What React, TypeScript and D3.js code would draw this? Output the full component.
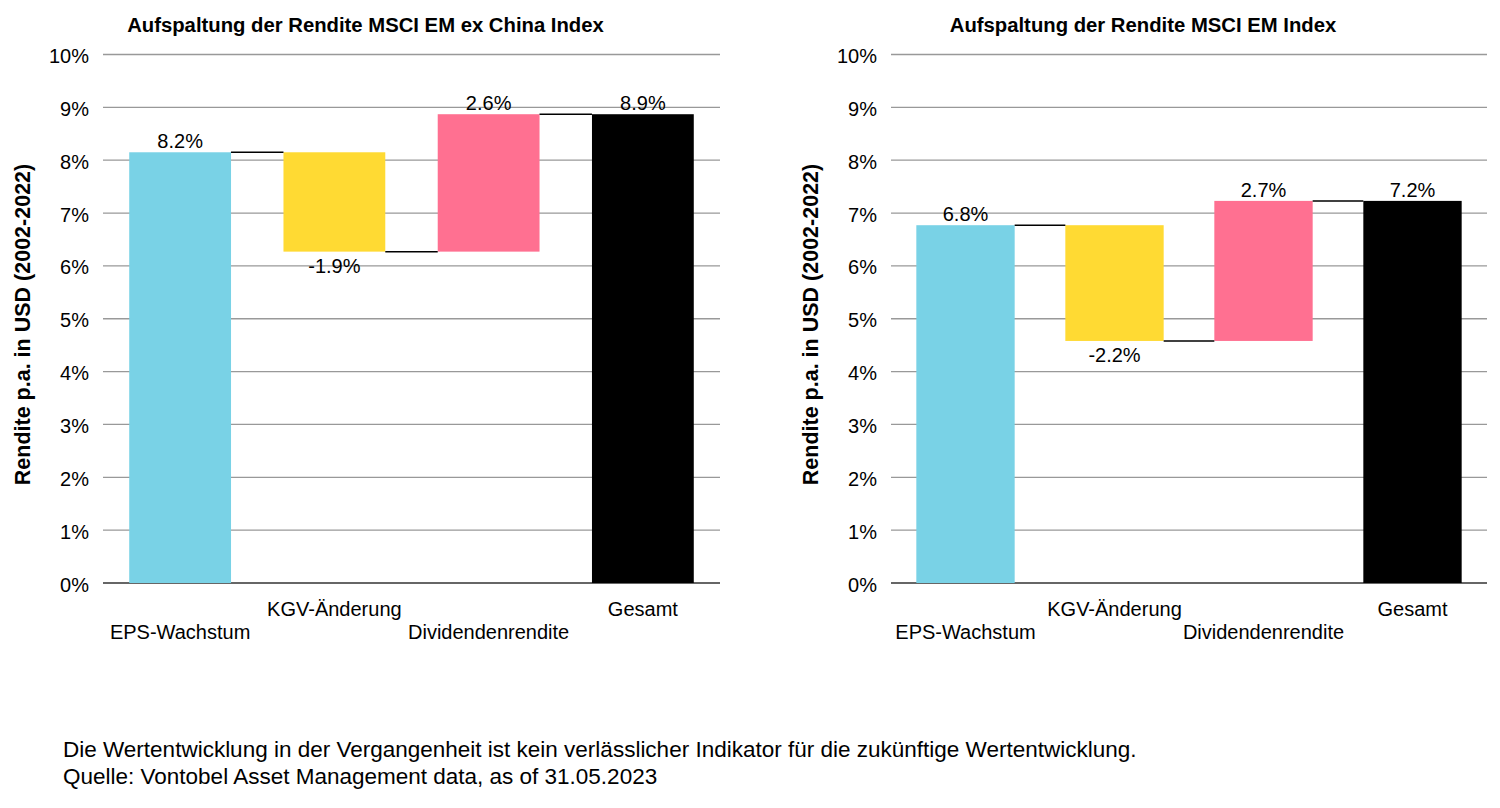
import React from "react";
import * as d3 from "d3";

const categories = ["EPS-Wachstum", "KGV-Änderung", "Dividendenrendite", "Gesamt"];
const colors = ["#79D2E6", "#FFDA33", "#FF7091", "#000000"];
const yTicks = [0, 1, 2, 3, 4, 5, 6, 7, 8, 9, 10];

const leftTitle = "Aufspaltung der Rendite MSCI EM ex China Index";
const leftSteps = [8.15, -1.88, 2.6];
const leftTotal = 8.87;
const leftLabels = ["8.2%", "-1.9%", "2.6%", "8.9%"];

const rightTitle = "Aufspaltung der Rendite MSCI EM Index";
const rightSteps = [6.77, -2.19, 2.65];
const rightTotal = 7.23;
const rightLabels = ["6.8%", "-2.2%", "2.7%", "7.2%"];

const yTitle = "Rendite p.a. in USD (2002-2022)";
const footer1 =
  "Die Wertentwicklung in der Vergangenheit ist kein verlässlicher Indikator für die zukünftige Wertentwicklung.";
const footer2 = "Quelle: Vontobel Asset Management data, as of 31.05.2023";

const FONT = "'Liberation Sans', Arial, sans-serif";

type PanelProps = {
  x0: number;
  x1: number;
  title: string;
  steps: number[];
  total: number;
  labels: string[];
};

function Panel({ x0, x1, title, steps, total, labels }: PanelProps) {
  const top = 54.5;
  const bottom = 583;
  const y = d3.scaleLinear().domain([0, 10]).range([bottom, top]);
  const x = d3
    .scaleBand<string>()
    .domain(categories)
    .range([x0, x1])
    .paddingInner(0.34)
    .paddingOuter(0.17);

  const segs: { start: number; end: number; value: number }[] = [];
  let run = 0;
  steps.forEach((v) => {
    segs.push({ start: run, end: run + v, value: v });
    run += v;
  });
  segs.push({ start: 0, end: total, value: total });

  const bw = x.bandwidth();
  const cx = (x0 + x1) / 2 - 46;

  return (
    <g>
      <text
        x={cx}
        y={32}
        textAnchor="middle"
        fontFamily={FONT}
        fontWeight="bold"
        fontSize={20.3}
        fill="#000"
      >
        {title}
      </text>
      {yTicks.map((t) => (
        <g key={t}>
          <line
            x1={x0}
            x2={x1}
            y1={y(t)}
            y2={y(t)}
            stroke={t === 0 ? "#333" : "#999"}
            strokeWidth={t === 0 ? 1.6 : 1.3}
          />
          <text
            x={x0 - 14}
            y={y(t) + 8.5}
            textAnchor="end"
            fontFamily={FONT}
            fontSize={20}
            fill="#000"
          >
            {`${t}%`}
          </text>
        </g>
      ))}
      {segs.map((s, i) => {
        const lo = Math.min(s.start, s.end);
        const hi = Math.max(s.start, s.end);
        const bx = x(categories[i])!;
        return (
          <rect
            key={i}
            x={bx}
            y={y(hi)}
            width={bw}
            height={y(lo) - y(hi)}
            fill={colors[i]}
          />
        );
      })}
      {segs.slice(0, -1).map((s, i) => {
        const xa = x(categories[i])! + bw;
        const xb = x(categories[i + 1])!;
        return (
          <line
            key={i}
            x1={xa}
            x2={xb}
            y1={y(s.end)}
            y2={y(s.end)}
            stroke="#000"
            strokeWidth={1.5}
          />
        );
      })}
      {segs.map((s, i) => {
        const bcx = x(categories[i])! + bw / 2;
        const neg = s.value < 0;
        const ly = neg ? y(s.end) + 21 : y(s.end) - 4;
        return (
          <text
            key={i}
            x={bcx}
            y={ly}
            textAnchor="middle"
            fontFamily={FONT}
            fontSize={20}
            fill="#000"
          >
            {labels[i]}
          </text>
        );
      })}
      {categories.map((c, i) => (
        <text
          key={c}
          x={x(c)! + bw / 2}
          y={i % 2 === 0 ? 638.5 : 616}
          textAnchor="middle"
          fontFamily={FONT}
          fontSize={20}
          fill="#000"
        >
          {c}
        </text>
      ))}
    </g>
  );
}

export default function App() {
  return (
    <svg
      width={1500}
      height={808}
      style={{ position: "absolute", left: 0, top: 0, background: "#fff" }}
    >
      <rect x={0} y={0} width={1500} height={808} fill="#fff" />
      <Panel x0={103} x1={720} title={leftTitle} steps={leftSteps} total={leftTotal} labels={leftLabels} />
      <Panel x0={891} x1={1487} title={rightTitle} steps={rightSteps} total={rightTotal} labels={rightLabels} />
      <text
        transform={`translate(30,${324.5}) rotate(-90)`}
        textAnchor="middle"
        fontFamily={FONT}
        fontWeight="bold"
        fontSize={21.5}
      >
        {yTitle}
      </text>
      <text
        transform={`translate(818,${324.5}) rotate(-90)`}
        textAnchor="middle"
        fontFamily={FONT}
        fontWeight="bold"
        fontSize={21.5}
      >
        {yTitle}
      </text>
      <text x={63} y={757} fontFamily={FONT} fontSize={22.5} fill="#000">
        {footer1}
      </text>
      <text x={63} y={784} fontFamily={FONT} fontSize={22.5} fill="#000">
        {footer2}
      </text>
    </svg>
  );
}
